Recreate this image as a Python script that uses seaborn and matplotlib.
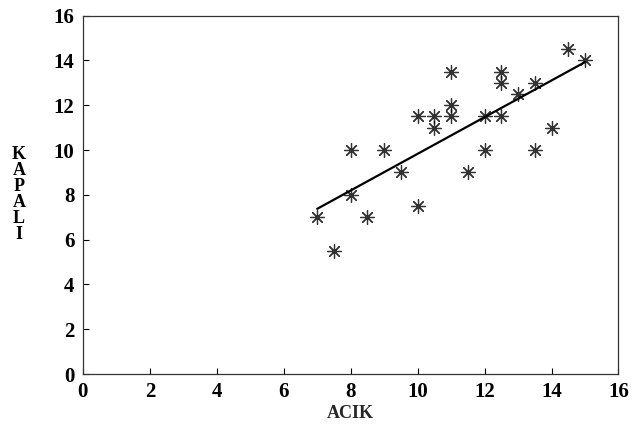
import matplotlib
matplotlib.use("Agg")
import matplotlib.pyplot as plt
import numpy as np
import pandas as pd
import seaborn as sns

# values
acik = [7, 7.5, 8, 8, 8.5, 9, 9.5, 10, 10, 10.5, 10.5, 11, 11, 11,
        11.5, 12, 12, 12.5, 12.5, 12.5, 13, 13.5, 13.5, 14, 14.5, 15]
kapali = [7, 5.5, 10, 8, 7, 10, 9, 11.5, 7.5, 11.5, 11, 13.5, 12, 11.5,
          9, 11.5, 10, 13.5, 13, 11.5, 12.5, 13, 10, 11, 14.5, 14]
ticks = [0, 2, 4, 6, 8, 10, 12, 14, 16]

df = pd.DataFrame({"ACIK": acik, "KAPALI": kapali})

sns.set_style("ticks")
plt.rcParams["font.family"] = ["Liberation Serif", "DejaVu Serif"]
plt.rcParams["font.weight"] = "bold"
plt.rcParams["text.color"] = "black"
plt.rcParams["xtick.color"] = "black"
plt.rcParams["ytick.color"] = "black"

fig = plt.figure(figsize=(6.33, 4.32), dpi=100)
ax = fig.add_axes([0.131, 0.134, 0.846, 0.830])

sns.regplot(
    data=df, x="ACIK", y="KAPALI", ax=ax, ci=None, truncate=True,
    marker=(8, 2, 0),
    scatter_kws={"s": 100, "color": "black", "linewidths": 0.9},
    line_kws={"color": "black", "linewidth": 1.6},
)

ax.set_xlim(0, 16)
ax.set_ylim(0, 16)
ax.set_xticks(ticks)
ax.set_yticks(ticks)
ax.tick_params(direction="in", length=4, width=0.8, labelsize=15, pad=6,
               top=False, right=False)
for lab in ax.get_xticklabels() + ax.get_yticklabels():
    lab.set_fontweight("bold")
for sp in ax.spines.values():
    sp.set_linewidth(0.9)
    sp.set_color("#333333")

ax.set_xlabel("ACIK", fontsize=13, fontweight="bold", labelpad=2)
ax.set_ylabel("")
fig.text(0.03, 0.55, "K\nA\nP\nA\nL\nI", ha="center", va="center",
         fontsize=13, fontweight="bold", linespacing=0.92)

fig.savefig("out.png", dpi=100)
